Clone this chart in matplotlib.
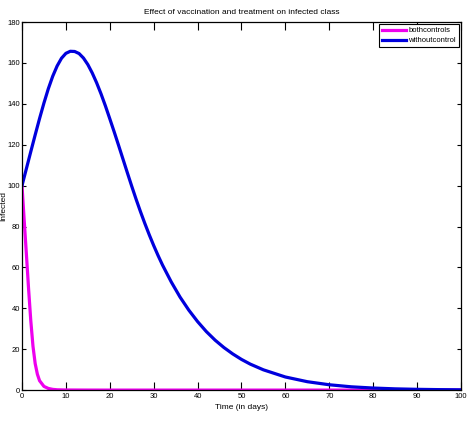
import matplotlib.pyplot as plt

# infected class, without any control
t_none = [0, 1, 2, 3, 4, 5, 6, 7, 8, 9, 10, 11, 12, 13, 14, 15, 16, 17, 18,
          19, 20, 21, 22, 23, 24, 25, 26, 27, 28, 29, 30, 31, 32, 34, 36, 38,
          40, 42, 44, 46, 48, 50, 52, 55, 60, 65, 70, 75, 80, 85, 90, 95, 100]
i_none = [100, 108.3, 116.6, 124.8, 132.8, 140.4, 147.4, 153.5, 158.5, 162.3,
          164.7, 165.7, 165.6, 164.6, 162.4, 159.2, 155.1, 150.3, 144.9, 139.0,
          132.7, 126.3, 119.7, 113.0, 106.3, 99.7, 93.3, 87.2, 81.4, 75.9,
          70.7, 65.8, 61.2, 52.9, 45.5, 39.1, 33.5, 28.6, 24.4, 20.8, 17.7,
          15.0, 12.7, 9.9, 6.4, 4.1, 2.6, 1.6, 1.0, 0.6, 0.37, 0.22, 0.13]

# infected class, vaccination + treatment
t_both = [0, 0.5, 1, 1.5, 2, 2.5, 3, 3.5, 4, 5, 6, 7, 8, 10, 15, 20, 40, 60,
          80, 100]
i_both = [100, 83, 66.5, 49.5, 34, 21.5, 13, 7.8, 4.6, 1.8, 0.8, 0.35, 0.15,
          0.05, 0.01, 0, 0, 0, 0, 0]

xticks = list(range(0, 101, 10))
yticks = list(range(0, 181, 20))

plt.rcParams['font.family'] = ['Liberation Sans', 'DejaVu Sans']

fig = plt.figure(figsize=(4.7, 4.24), dpi=100)
ax = fig.add_axes([0.0468, 0.080, 0.934, 0.868])

ax.plot(t_both, i_both, color='#ee00ee', lw=2.3, label='bothcontrols',
        solid_joinstyle='round')
ax.plot(t_none, i_none, color='#0000dd', lw=2.3, label='withoutcontrol',
        solid_joinstyle='round')

ax.set_xlim(0, 100)
ax.set_ylim(0, 180)
ax.set_xticks(xticks)
ax.set_yticks(yticks)
ax.tick_params(axis='both', direction='in', top=True, right=True,
               labelsize=5.5, width=0.8, pad=2)
ax.tick_params(axis='x', length=5.5)
ax.tick_params(axis='y', length=3, pad=1.5)
for s in ax.spines.values():
    s.set_linewidth(0.9)

ax.set_title('Effect of vaccination and treatment on infected class',
             fontsize=6, pad=6)
ax.set_xlabel('Time (in days)', fontsize=6, labelpad=3)
ax.set_ylabel('Infected', fontsize=6)
ax.yaxis.set_label_coords(-0.034, 0.5)

leg = ax.legend(loc='upper right', fontsize=5.5, fancybox=False,
                edgecolor='black', framealpha=1, borderaxespad=0.3,
                handlelength=3.2, handletextpad=0.3, borderpad=0.35,
                labelspacing=0.35)
leg.get_frame().set_linewidth(0.8)

fig.savefig('out.png', dpi=100)
